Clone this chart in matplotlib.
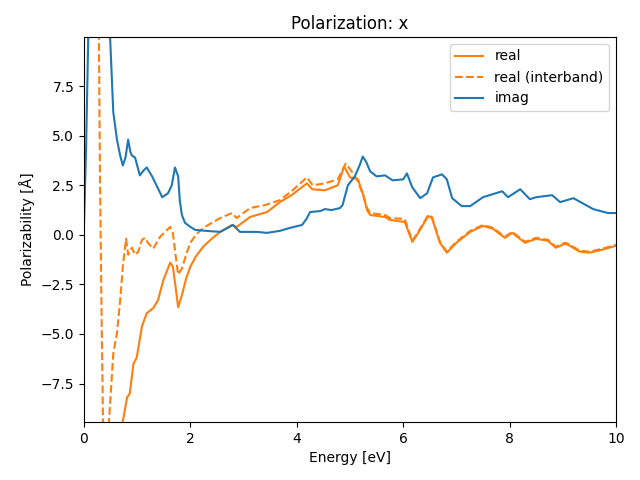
import matplotlib
matplotlib.use("Agg")
import matplotlib.pyplot as plt

# imag part
imag_x = [0.0, 0.04, 0.08, 0.2, 0.35, 0.45, 0.49, 0.55, 0.62, 0.68, 0.73, 0.78, 0.83, 0.87, 0.9, 0.96, 1.05, 1.12, 1.18, 1.28,
          1.38, 1.47, 1.58, 1.65, 1.71, 1.77, 1.8, 1.84, 1.9, 2.0, 2.09, 2.3, 2.56, 2.7, 2.8, 2.93, 3.25, 3.44, 3.68, 3.87, 4.1,
          4.18, 4.25, 4.44, 4.53, 4.65, 4.81, 4.86, 4.96, 5.09, 5.18, 5.24, 5.3, 5.38, 5.5, 5.66, 5.8, 6.0, 6.07, 6.17, 6.32,
          6.45, 6.56, 6.73, 6.82, 6.92, 7.1, 7.26, 7.5, 7.86, 7.97, 8.2, 8.38, 8.5, 8.8, 8.95, 9.2, 9.57,
          9.85, 10.0]
imag_y = [0.5, 4.5, 10.0, 20.0, 18.0, 12.0, 10.0, 6.2, 4.8, 4.0, 3.5, 3.9, 4.8, 4.2, 4.0, 3.9, 3.0, 3.25, 3.4, 2.95,
          2.4, 1.9, 2.1, 2.5, 3.4, 2.95, 1.75, 1.0, 0.6, 0.4, 0.25, 0.2, 0.15, 0.35, 0.5, 0.15, 0.15, 0.1, 0.2, 0.35, 0.5,
          0.8, 1.15, 1.2, 1.3, 1.25, 1.35, 1.5, 2.5, 2.95, 3.5, 3.95, 3.7, 3.2, 2.95, 3.0, 2.75, 2.8, 3.1, 2.4, 1.85,
          2.1, 2.9, 3.05, 2.8, 1.85, 1.45, 1.45, 1.9, 2.2, 1.9, 2.3, 1.8, 1.9, 2.0, 1.65, 1.85, 1.3,
          1.1, 1.1]

# real part (total)
real_x = [0.05, 0.5, 0.7, 0.73, 0.81, 0.86, 0.93, 0.99, 1.09, 1.18, 1.3, 1.39, 1.49, 1.62, 1.67, 1.72, 1.77,
          1.84, 1.92, 2.0, 2.1, 2.24, 2.4, 2.56, 2.78, 2.87, 3.12, 3.44, 3.68, 3.9, 4.19, 4.29, 4.53, 4.77, 4.89, 5.0,
          5.15, 5.25, 5.32, 5.38, 5.66, 5.75, 6.03, 6.17, 6.26, 6.47, 6.54, 6.69, 6.82, 7.0, 7.26, 7.5, 7.69,
          7.91, 8.05, 8.29, 8.5, 8.72, 8.87, 9.04, 9.1, 9.32, 9.5, 9.74, 10.0]
real_y = [-60.0, -15.0, -10.5, -9.4, -8.2, -8.0, -6.5, -6.2, -4.6, -3.95, -3.7, -3.3, -2.3, -1.4, -1.6, -2.6, -3.65,
          -3.05, -2.2, -1.6, -1.1, -0.6, -0.2, 0.15, 0.5, 0.4, 0.9, 1.15, 1.65, 2.0, 2.6, 2.3, 2.25, 2.5, 3.45, 2.9,
          2.8, 2.0, 1.25, 1.0, 0.9, 0.75, 0.65, -0.35, 0.0, 0.95, 0.85, -0.4, -0.9, -0.4, 0.15, 0.45, 0.3,
          -0.15, 0.1, -0.4, -0.2, -0.3, -0.65, -0.45, -0.5, -0.85, -0.9, -0.75, -0.55]

# real part (interband)
inter_x = [0.05, 0.2, 0.28, 0.3, 0.33, 0.36, 0.4, 0.45, 0.47, 0.55, 0.62, 0.68, 0.73, 0.79, 0.83, 0.9,
           0.96, 1.02, 1.09, 1.15, 1.2, 1.3, 1.43, 1.62, 1.67, 1.72, 1.77, 1.84, 1.92, 2.0, 2.1, 2.24, 2.4, 2.56, 2.78, 2.87,
           3.12, 3.4, 3.68, 3.9, 4.19, 4.3, 4.53, 4.77, 4.92, 5.03, 5.13, 5.25, 5.32, 5.38, 5.66, 5.75, 6.03,
           6.17, 6.26, 6.47, 6.54, 6.69, 6.82, 7.0, 7.26, 7.5, 7.69, 7.91, 8.05, 8.29, 8.5, 8.72, 8.87,
           9.04, 9.1, 9.32, 9.5, 9.74, 10.0]
inter_y = [25.0, 16.0, 10.0, 3.0, -4.0, -10.0, -15.0, -12.0, -9.4, -6.0, -4.95, -3.3, -1.6, -0.2, -1.0, -0.65,
           -1.0, -0.85, -0.25, -0.15, -0.4, -0.7, -0.1, 0.4, 0.1, -1.0, -2.0, -1.7, -1.0, -0.4, 0.0, 0.35, 0.6, 0.85, 1.1, 0.85,
           1.35, 1.5, 1.75, 2.2, 2.9, 2.5, 2.6, 2.8, 3.6, 3.2, 2.8, 2.0, 1.35, 1.1, 1.0, 0.85, 0.8,
           -0.3, 0.05, 1.0, 0.9, -0.35, -0.85, -0.35, 0.2, 0.5, 0.35, -0.1, 0.15, -0.35, -0.15, -0.25, -0.6,
           -0.4, -0.45, -0.8, -0.85, -0.7, -0.5]

fig, ax = plt.subplots(figsize=(6.4, 4.8), dpi=100)
ax.plot(real_x, real_y, color='C1', label='real')
ax.plot(inter_x, inter_y, color='C1', linestyle='--', label='real (interband)')
ax.plot(imag_x, imag_y, color='C0', label='imag')
ax.set_xlim(0, 10)
ax.set_ylim(-9.44, 9.98)
ax.set_yticks([-7.5, -5.0, -2.5, 0.0, 2.5, 5.0, 7.5])
ax.set_xlabel('Energy [eV]')
ax.set_ylabel('Polarizability [Å]')
ax.set_title('Polarization: x')
ax.legend(loc='upper right')
fig.subplots_adjust(left=84/640, right=616/640, top=1-37/480, bottom=1-422/480)
fig.savefig('out.png', dpi=100)
